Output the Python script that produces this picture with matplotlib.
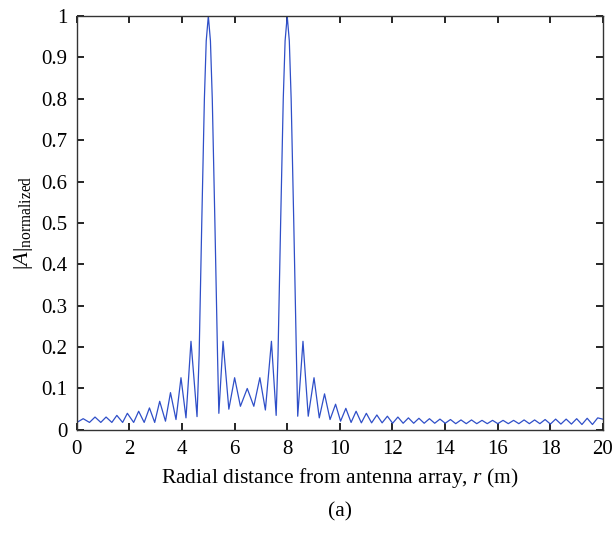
import matplotlib
matplotlib.use("Agg")
import matplotlib.pyplot as plt

# Read-off points of |A|normalized vs radial distance r (m)
r_vals = [
    0.00, 0.24, 0.48, 0.69, 0.91, 1.11, 1.33, 1.52, 1.74, 1.92, 2.16, 2.35, 2.56, 2.76,
    2.96, 3.15, 3.37, 3.56, 3.77, 3.96, 4.15, 4.34, 4.57,
    4.65, 4.70, 4.75, 4.80, 4.85, 4.92, 5.00, 5.08, 5.15, 5.20, 5.25, 5.30, 5.35, 5.40,
    5.56, 5.78, 6.00, 6.22, 6.48, 6.73, 6.96, 7.17, 7.40, 7.58,
    7.65, 7.70, 7.75, 7.80, 7.85, 7.92, 8.00, 8.08, 8.15, 8.20, 8.25, 8.30, 8.35, 8.40,
    8.60, 8.80, 9.02, 9.22, 9.42, 9.63, 9.84, 10.03, 10.23, 10.43, 10.62, 10.82, 11.01,
    11.21, 11.41, 11.61, 11.81, 12.01, 12.21, 12.41, 12.61, 12.81, 13.01, 13.21, 13.41,
    13.61, 13.81, 14.01, 14.21, 14.41, 14.61, 14.81, 15.01, 15.21, 15.41, 15.61, 15.81,
    16.01, 16.21, 16.41, 16.61, 16.81, 17.01, 17.21, 17.41, 17.61, 17.81, 18.01, 18.21,
    18.41, 18.61, 18.81, 19.01, 19.21, 19.41, 19.61, 19.81, 20.00,
]
a_vals = [
    0.018, 0.027, 0.018, 0.031, 0.018, 0.031, 0.018, 0.035, 0.018, 0.040, 0.018, 0.045, 0.018, 0.053,
    0.018, 0.069, 0.021, 0.090, 0.025, 0.126, 0.029, 0.214, 0.032,
    0.18, 0.34, 0.50, 0.65, 0.80, 0.94, 1.00, 0.94, 0.80, 0.65, 0.50, 0.34, 0.18, 0.040,
    0.214, 0.050, 0.126, 0.057, 0.100, 0.057, 0.126, 0.048, 0.214, 0.035,
    0.18, 0.34, 0.50, 0.65, 0.80, 0.94, 1.00, 0.94, 0.80, 0.65, 0.50, 0.34, 0.18, 0.033,
    0.214, 0.033, 0.126, 0.029, 0.087, 0.025, 0.062, 0.021, 0.052, 0.018, 0.045, 0.017, 0.040,
    0.017, 0.036, 0.017, 0.033, 0.016, 0.031, 0.016, 0.029, 0.016, 0.028, 0.016, 0.027,
    0.016, 0.026, 0.016, 0.025, 0.015, 0.024, 0.015, 0.024, 0.015, 0.023, 0.015, 0.023,
    0.015, 0.023, 0.015, 0.023, 0.015, 0.024, 0.015, 0.024, 0.015, 0.025, 0.014, 0.026,
    0.014, 0.026, 0.014, 0.027, 0.013, 0.028, 0.013, 0.029, 0.026,
]

x_ticks = [0, 2, 4, 6, 8, 10, 12, 14, 16, 18, 20]
y_ticks = [0, 0.1, 0.2, 0.3, 0.4, 0.5, 0.6, 0.7, 0.8, 0.9, 1]
y_tick_labels = ["0", "0.1", "0.2", "0.3", "0.4", "0.5", "0.6", "0.7", "0.8", "0.9", "1"]

plt.rcParams["font.family"] = ["Liberation Serif", "DejaVu Serif"]
plt.rcParams["mathtext.fontset"] = "custom"
plt.rcParams["mathtext.rm"] = "Liberation Serif"
plt.rcParams["mathtext.it"] = "Liberation Serif:italic"

fig = plt.figure(figsize=(6.15, 5.34), dpi=100)
ax = fig.add_axes([0.125, 0.195, 0.855, 0.775])
ax.plot(r_vals, a_vals, color="#2f4fc8", linewidth=0.9)

ax.set_xlim(0, 20)
ax.set_ylim(0, 1)
ax.set_xticks(x_ticks)
ax.set_xticklabels([str(t) for t in x_ticks])
ax.set_yticks(y_ticks)
ax.set_yticklabels(y_tick_labels)
ax.tick_params(direction="in", top=True, right=True, length=5, width=1.2,
               labelsize=15, colors="black", pad=7)
for s in ax.spines.values():
    s.set_linewidth(1.0)
    s.set_color("#333333")

ax.set_xlabel(r"Radial distance from antenna array, $r$ (m)", fontsize=15.5, labelpad=5)
ax.set_ylabel(r"$|A|_{\mathrm{normalized}}$", fontsize=16, labelpad=4)
fig.text(0.553, 0.041, "(a)", ha="center", va="center", fontsize=15.5)

fig.savefig("out.png", dpi=100)
